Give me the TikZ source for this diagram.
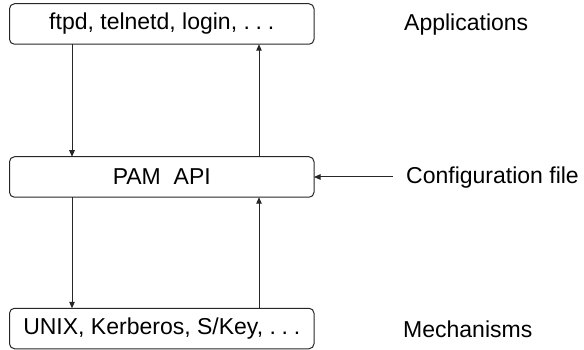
\documentclass[tikz,border=0pt]{standalone}
\usepackage{fontspec}
\setmainfont{Liberation Sans}
\usetikzlibrary{arrows.meta}
\newcommand{\mydots}{.\hspace{0.25em}.\hspace{0.25em}.}
\begin{document}
\begin{tikzpicture}[x=1pt,y=-1pt,
  box/.style={draw=black!85, line width=1pt, rounded corners=5pt, minimum width=304.5pt, minimum height=40.5pt, inner sep=0pt, outer sep=0pt, font=\fontsize{23}{26}\selectfont},
  lbl/.style={anchor=west, inner sep=0pt, font=\fontsize{23}{26}\selectfont},
  arr/.style={draw=black!85, line width=1pt, -{Triangle[length=6.5pt,width=5.5pt]}}]
\useasboundingbox (0,0) rectangle (584,350);
\node[box] (app) at (161.75,24) {ftpd, telnetd, login, \mydots};
\node[box] (pam) at (161.75,177) {PAM\ \ API};
\node[box] (mech) at (161.75,328.5) {UNIX, Kerberos, S/Key, \mydots};
\node[lbl] (lapp) at (404,24.5) {Applications};
\node[lbl] (lconf) at (406,177.5) {Configuration file};
\node[lbl] (lmech) at (403,329) {Mechanisms};
\coordinate (cl) at (72,0);
\coordinate (cr) at (259,0);
\coordinate (cs) at (393,177);
\draw[arr] (app.south -| cl) -- (pam.north -| cl);
\draw[arr] (pam.north -| cr) -- (app.south -| cr);
\draw[arr] (pam.south -| cl) -- (mech.north -| cl);
\draw[arr] (mech.north -| cr) -- (pam.south -| cr);
\draw[arr] (cs) -- (pam.east |- cs);
\end{tikzpicture}
\end{document}
